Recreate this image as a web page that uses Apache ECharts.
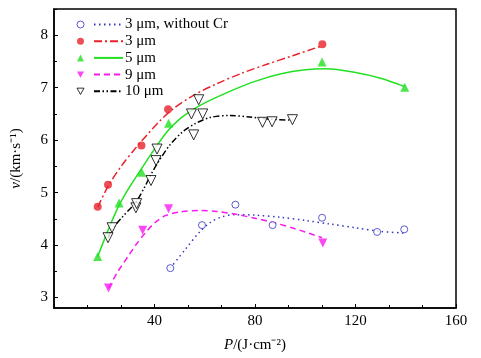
<!DOCTYPE html>
<html>
<head>
<meta charset="utf-8">
<script src="https://cdn.jsdelivr.net/npm/echarts@6/dist/echarts.min.js"></script>
<style>html,body{margin:0;padding:0;background:#fff}#c{width:481px;height:358px}</style>
</head>
<body>
<div id="c"></div>
<script>
// ---------- data ----------
const names = ['3 μm, without Cr', '3 μm', '5 μm', '9 μm', '10 μm'];

// measured points
const ptsNoCrX = [46.3, 58.9, 72.2, 87.0, 106.7, 128.6, 139.4];
const ptsNoCrY = [3.56, 4.38, 4.77, 4.38, 4.52, 4.25, 4.30];
const pts3X = [17.4, 21.5, 34.8, 45.4, 106.8];
const pts3Y = [4.73, 5.15, 5.90, 6.59, 7.83];
const pts5X = [17.4, 25.9, 34.9, 45.6, 106.7, 139.6];
const pts5Y = [3.78, 4.80, 5.39, 6.32, 7.49, 7.01];
const pts9X = [21.7, 35.3, 45.6, 107.0];
const pts9Y = [3.18, 4.28, 4.69, 4.04];
const pts10X = [21.5, 23.1, 32.6, 32.9, 38.6, 40.6, 41.0, 54.7, 55.6, 57.6, 59.2, 83.0, 86.8, 94.9];
const pts10Y = [4.14, 4.33, 4.71, 4.79, 5.23, 5.61, 5.83, 6.50, 6.10, 6.77, 6.50, 6.34, 6.35, 6.39];

// fitted curves
const fitNoCrX = [46.3, 52.3, 57.6, 62.2, 67.0, 72.0, 80.0, 90.0, 100.0, 110.0, 120.0, 130.0, 139.2];
const fitNoCrY = [3.56, 3.92, 4.23, 4.43, 4.54, 4.58, 4.57, 4.53, 4.47, 4.40, 4.33, 4.26, 4.23];
const fit3X = [17.4, 21.5, 27.0, 32.0, 37.0, 42.0, 47.0, 55.0, 65.0, 75.0, 85.0, 95.0, 106.8];
const fit3Y = [4.72, 5.12, 5.52, 5.82, 6.10, 6.36, 6.58, 6.84, 7.08, 7.28, 7.45, 7.61, 7.80];
const fit5X = [17.4, 21.5, 25.9, 30.0, 35.0, 40.0, 45.0, 50.0, 55.0, 60.0, 70.0, 80.0, 90.0, 100.0, 108.0, 120.0, 130.0, 139.6];
const fit5Y = [3.78, 4.28, 4.76, 5.10, 5.47, 5.83, 6.16, 6.40, 6.57, 6.71, 6.93, 7.12, 7.26, 7.34, 7.36, 7.29, 7.18, 7.02];
const fit9X = [21.7, 25.5, 29.7, 33.0, 36.3, 40.0, 44.3, 50.0, 58.0, 65.0, 72.0, 80.0, 88.0, 96.0, 106.7];
const fit9Y = [3.18, 3.50, 3.80, 4.03, 4.23, 4.42, 4.56, 4.63, 4.66, 4.64, 4.59, 4.51, 4.42, 4.31, 4.14];
const fit10X = [21.5, 23.1, 27.5, 32.6, 36.0, 39.0, 42.0, 46.0, 51.0, 56.0, 62.0, 70.0, 78.0, 86.0, 94.9];
const fit10Y = [4.14, 4.30, 4.55, 4.82, 5.10, 5.38, 5.62, 5.90, 6.15, 6.31, 6.43, 6.47, 6.44, 6.40, 6.38];

// axes
const xTicks = [40, 80, 120, 160];
const yTicks = [3, 4, 5, 6, 7, 8];
const yMinorTicks = [3.5, 4.5, 5.5, 6.5, 7.5, 8.5];

// ---------- chart ----------
const zip = (a, b) => a.map((v, i) => [v, b[i]]);
const FONT = '"Liberation Serif", "Times New Roman", serif';
const colors = ['#3434c4', '#e8222a', '#22e022', '#f81cf0', '#000000'];
const dashes = [[1.5, 3.5], [8, 3, 2, 3], 'solid', [6, 4], [6, 2.5, 1.5, 2.5, 1.5, 2.5]];
const ptsX = [ptsNoCrX, pts3X, pts5X, pts9X, pts10X];
const ptsY = [ptsNoCrY, pts3Y, pts5Y, pts9Y, pts10Y];
const fitX = [fitNoCrX, fit3X, fit5X, fit9X, fit10X];
const fitY = [fitNoCrY, fit3Y, fit5Y, fit9Y, fit10Y];
const symbols = ['circle', 'circle', 'triangle', 'triangle', 'triangle'];
const rot = [0, 0, 0, 180, 180];
const sizes = [7, 8, 9, 9, 10];
const filled = [false, true, true, true, false];
const markerNames = names.map((n, i) => 'm' + i);
const downTri = 'path://M0,0 L10,0 L5,9 Z';

const series = [];
names.forEach((n, i) => {
  series.push({
    name: n, type: 'line', smooth: 0.3, symbol: 'none',
    data: zip(fitX[i], fitY[i]),
    lineStyle: { color: colors[i], width: 1.5, type: dashes[i] },
    itemStyle: { color: colors[i] },
    z: 2, silent: true
  });
});
names.forEach((n, i) => {
  series.push({
    name: markerNames[i], type: 'scatter',
    symbol: symbols[i], symbolRotate: rot[i], symbolSize: sizes[i],
    data: zip(ptsX[i], ptsY[i]),
    itemStyle: filled[i] ? { color: colors[i] } : { color: '#fff', borderColor: colors[i], borderWidth: 1 },
    z: 3
  });
});

const chart = echarts.init(document.getElementById('c'), null, { renderer: 'canvas' });
chart.setOption({
  animation: false,
  backgroundColor: '#fff',
  textStyle: { fontFamily: FONT },
  grid: { left: 54, right: 25, top: 9, bottom: 49, show: true, borderColor: '#000', borderWidth: 1.5 },
  legend: [
    {
      data: markerNames.map((m, i) => rot[i] ? { name: m, icon: downTri } : { name: m }),
      orient: 'vertical', left: 71.5, top: 11.5,
      itemWidth: 7, itemHeight: 7, itemGap: 0.7, formatter: () => ' ',
      itemStyle: { borderWidth: 1 },
      textStyle: { fontSize: 15, lineHeight: 16, fontFamily: FONT }, selectedMode: false
    },
    {
      data: names, orient: 'vertical', left: 88, top: 11.5,
      itemWidth: 29, itemHeight: 10, itemGap: 0.7,
      itemStyle: { opacity: 0 },
      textStyle: { fontSize: 15, lineHeight: 16, fontFamily: FONT, color: '#000', padding: [0, 0, 0, -3] }, selectedMode: false
    }
  ],
  xAxis: {
    type: 'value', min: 0, max: 160, interval: 40,
    name: '{i|P}/(J·cm⁻²)', nameLocation: 'middle', nameGap: 30,
    nameTextStyle: { fontSize: 15, color: '#000', fontFamily: FONT, rich: { i: { fontStyle: 'italic', fontSize: 15, fontFamily: FONT } } },
    axisLine: { lineStyle: { color: '#000', width: 1.5 } },
    axisTick: { inside: true, length: 4, lineStyle: { color: '#000', width: 1 } },
    minorTick: { show: true, splitNumber: 3, length: 3, lineStyle: { color: '#000', width: 1 } },
    axisLabel: { fontSize: 15, color: '#000', margin: 6, fontFamily: FONT, customValues: xTicks },
    splitLine: { show: false }
  },
  yAxis: [
    {
      type: 'value', min: 2.8, max: 8.5,
      name: '{i|v}/(km·s⁻¹)', nameLocation: 'middle', nameGap: 30, nameRotate: 90,
      nameTextStyle: { fontSize: 15, color: '#000', fontFamily: FONT, rich: { i: { fontStyle: 'italic', fontSize: 15, fontFamily: FONT } } },
      axisLine: { lineStyle: { color: '#000', width: 1.5 } },
      axisTick: { inside: true, length: 4, customValues: yTicks, lineStyle: { color: '#000', width: 1 } },
      axisLabel: { customValues: yTicks, fontSize: 15, color: '#000', margin: 6, fontFamily: FONT },
      splitLine: { show: false }
    },
    {
      type: 'value', min: 2.8, max: 8.5, position: 'left',
      axisLine: { show: false },
      axisTick: { inside: true, length: 3, customValues: yMinorTicks, lineStyle: { color: '#000', width: 1 } },
      axisLabel: { show: false },
      splitLine: { show: false }
    }
  ],
  series: series
});
</script>
</body>
</html>
